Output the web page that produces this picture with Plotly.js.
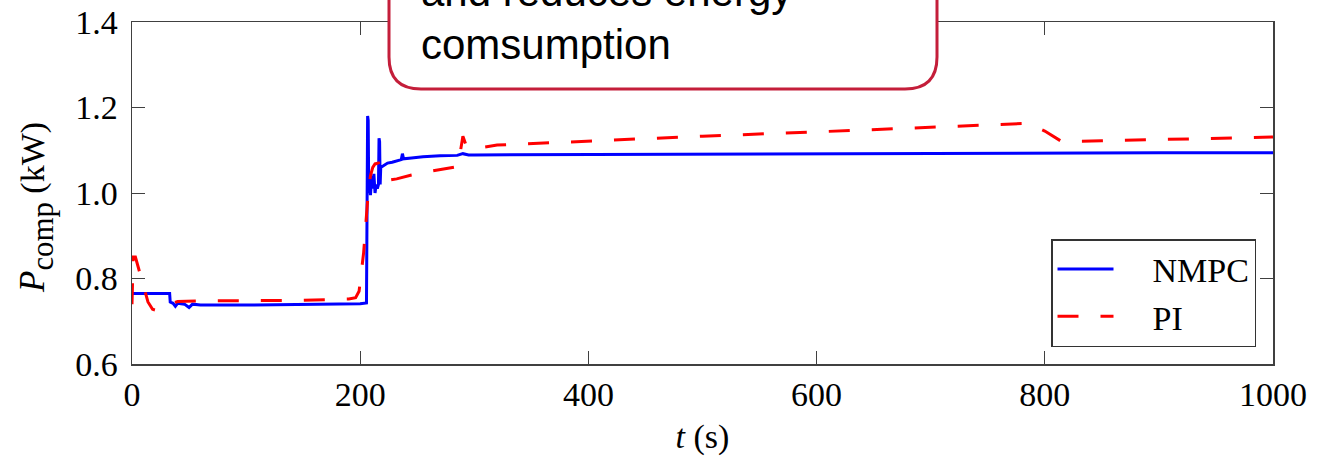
<!DOCTYPE html>
<html>
<head>
<meta charset="utf-8">
<script src="https://cdn.plot.ly/plotly-3.0.1.min.js"></script>
<style>html,body{margin:0;padding:0;background:#fff;}#chart{width:1322px;height:459px;}</style>
</head>
<body>
<div id="chart"></div>
<script>
// ---- data ----
const nmpcT = [0, 2, 33, 33.5, 36, 38, 40, 46, 50, 53, 60, 100, 150, 200, 205.5, 206, 206.5, 207, 207.5, 208, 209, 210, 211, 212, 213, 214, 215, 216, 216.5, 217, 217.5, 218, 220, 224, 228, 232, 236, 237, 238, 245, 255, 270, 285, 290, 295, 300, 400, 500, 600, 700, 800, 900, 1000];
const nmpcP = [0.765, 0.765, 0.765, 0.745, 0.742, 0.735, 0.742, 0.740, 0.732, 0.740, 0.738, 0.738, 0.740, 0.741, 0.743, 0.95, 1.18, 1.17, 1.00, 1.03, 0.995, 1.04, 1.01, 1.045, 1.00, 1.02, 1.01, 1.02, 1.128, 1.12, 1.02, 1.06, 1.063, 1.07, 1.072, 1.075, 1.078, 1.092, 1.08, 1.082, 1.085, 1.087, 1.088, 1.092, 1.089, 1.089, 1.090, 1.091, 1.092, 1.093, 1.093, 1.094, 1.094];

const piT = [0, 1, 3, 6, 10, 14, 18, 22, 27, 33, 40, 60, 100, 150, 190, 196, 199, 201, 203, 205, 207, 209, 211, 213, 216, 220, 225, 232, 245, 260, 275, 286, 288, 290, 293, 300, 320, 400, 500, 600, 700, 785, 800, 815, 850, 900, 1000];
const piP = [0.74, 0.85, 0.85, 0.82, 0.78, 0.745, 0.728, 0.725, 0.73, 0.74, 0.746, 0.748, 0.748, 0.749, 0.752, 0.755, 0.77, 0.81, 0.86, 0.93, 1.0, 1.04, 1.06, 1.068, 1.07, 1.04, 1.03, 1.033, 1.042, 1.05, 1.057, 1.062, 1.10, 1.133, 1.11, 1.104, 1.112, 1.122, 1.133, 1.143, 1.154, 1.163, 1.145, 1.12, 1.122, 1.125, 1.131];

const seriesNames = ['NMPC', 'PI'];
const xTicks = [0, 200, 400, 600, 800, 1000];
const yTicks = [0.6, 0.8, 1.0, 1.2, 1.4];
const calloutLines = ['and reduces energy', 'comsumption'];

// ---- layout helpers ----
const W = 1322, H = 459;
const M = {l: 132, r: 49, t: 22, b: 95};
const PW = W - M.l - M.r, PH = H - M.t - M.b;
const px = x => (x - M.l) / PW;
const py = y => (M.t + PH - y) / PH;

const serif = '"Liberation Serif", "Times New Roman", Times, serif';
const sans = '"Liberation Sans", Arial, Helvetica, sans-serif';

// callout box path (pixel geometry converted to paper units)
const bx0 = 389, bx1 = 937, by1 = 89, byTop = -40, rad = 32;
const rx = rad / PW, ry = rad / PH;
const boxPath = [
  'M', px(bx0), py(byTop),
  'L', px(bx0), py(by1) + ry,
  'Q', px(bx0), py(by1), px(bx0) + rx, py(by1),
  'L', px(bx1) - rx, py(by1),
  'Q', px(bx1), py(by1), px(bx1), py(by1) + ry,
  'L', px(bx1), py(byTop), 'Z'
].join(' ');

const legendPad = '\u2003';
const traces = [
  {x: nmpcT, y: nmpcP, name: legendPad + seriesNames[0], type: 'scatter', mode: 'lines',
   line: {color: '#0000ff', width: 3}},
  {x: piT, y: piP, name: legendPad + seriesNames[1], type: 'scatter', mode: 'lines',
   line: {color: '#ff0000', width: 3, dash: '21px,22px'}}
];

const axisCommon = {
  showgrid: false, zeroline: false,
  showline: true, linecolor: '#404040', linewidth: 1.5, mirror: 'ticks',
  ticks: 'inside', ticklen: 13, tickwidth: 1, tickcolor: '#404040',
  tickfont: {family: serif, size: 34, color: '#000'}
};

const layout = {
  width: W, height: H,
  margin: M,
  paper_bgcolor: '#fff', plot_bgcolor: '#fff',
  showlegend: true,
  xaxis: Object.assign({}, axisCommon, {
    range: [0, 1000], tickvals: xTicks, ticktext: xTicks.map(String),
    title: {text: '<i>t</i> (s)', font: {family: serif, size: 34, color: '#000'}, standoff: 12}
  }),
  yaxis: Object.assign({}, axisCommon, {
    range: [0.6, 1.4], tickvals: yTicks, ticktext: yTicks.map(v => v.toFixed(1)),
    ticklabelstandoff: 6
  }),
  legend: {
    x: px(1256), xanchor: 'right', y: py(347), yanchor: 'bottom',
    bgcolor: '#fff', bordercolor: '#333', borderwidth: 1.5,
    font: {family: serif, size: 34, color: '#000'},
    itemwidth: 56
  },
  shapes: [{
    type: 'path', xref: 'paper', yref: 'paper', path: boxPath,
    fillcolor: '#ffffff', line: {color: '#c41e3a', width: 3}, layer: 'above'
  }],
  annotations: [
    {xref: 'paper', yref: 'paper', x: px(419), y: py(-8), xanchor: 'left', yanchor: 'middle',
     text: calloutLines[0], showarrow: false, font: {family: sans, size: 42, color: '#000'}},
    {xref: 'paper', yref: 'paper', x: px(419), y: py(44), xanchor: 'left', yanchor: 'middle',
     text: calloutLines[1], showarrow: false, font: {family: sans, size: 42, color: '#000'}},
    {xref: 'paper', yref: 'paper', x: px(36), y: py(208), xanchor: 'center', yanchor: 'middle',
     textangle: -90, showarrow: false,
     text: '<span style="font-size:35px"><i>P</i></span><sub>comp</sub><span style="font-size:34px"> (kW)</span>',
     font: {family: serif, size: 44, color: '#000'}}
  ]
};

Plotly.newPlot('chart', traces, layout, {displayModeBar: false, staticPlot: true});
</script>
</body>
</html>
